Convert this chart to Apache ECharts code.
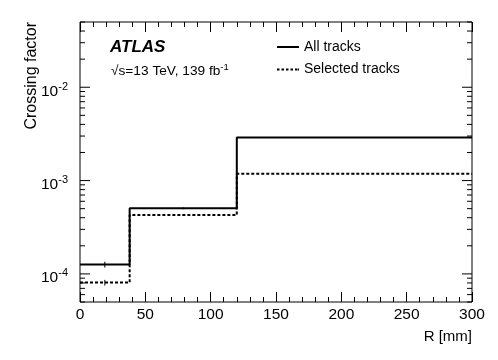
<!DOCTYPE html>
<html>
<head>
<meta charset="utf-8">
<script src="https://cdn.jsdelivr.net/npm/echarts@6/dist/echarts.min.js"></script>
<style>
  html, body { margin: 0; padding: 0; background: #fff; }
  #chart { width: 498px; height: 360px; }
</style>
</head>
<body>
<div id="chart"></div>
<script>
// bin edges in R [mm]
var binEdges = [0, 38, 120, 300];
// crossing factor per bin
var allTracks = [1.26e-4, 5.04e-4, 2.89e-3];
var allTracksErr = [0.09e-4, 0.12e-4, 0.015e-3];
var selectedTracks = [8.07e-5, 4.28e-4, 1.18e-3];
var selectedTracksErr = [0.56e-5, 0.1e-4, 0.01e-3];
// log y axis ticks
var yTicks = [5e-5, 6e-5, 7e-5, 8e-5, 9e-5,
  1e-4, 2e-4, 3e-4, 4e-4, 5e-4, 6e-4, 7e-4, 8e-4, 9e-4,
  1e-3, 2e-3, 3e-3, 4e-3, 5e-3, 6e-3, 7e-3, 8e-3, 9e-3,
  1e-2, 2e-2, 3e-2, 4e-2, 5e-2];
var yMajorLabels = { "1e-4": "-4", "1e-3": "-3", "1e-2": "-2" };

var FONT = "Liberation Sans, Arial, Helvetica, sans-serif";

// step points: repeat the last value at the right edge
function stepData(vals) {
  var pts = vals.map(function (v, i) { return [binEdges[i], v]; });
  pts.push([binEdges[binEdges.length - 1], vals[vals.length - 1]]);
  return pts;
}
function errData(vals, errs) {
  return vals.map(function (v, i) {
    return [(binEdges[i] + binEdges[i + 1]) / 2, v - errs[i], v + errs[i]];
  });
}

var chart = echarts.init(document.getElementById("chart"));

var option = {
  animation: false,
  grid: {
    left: 80, right: 26, top: 22, bottom: 58,
    show: true, borderColor: "#000", borderWidth: 1,
  },
  legend: {
    orient: "vertical",
    left: 277, top: 39, padding: 0,
    itemWidth: 22, itemHeight: 2, itemGap: 6.6,
    textStyle: { fontFamily: FONT, fontSize: 14, lineHeight: 16, color: "#000" },
    data: [
      { name: "All tracks", icon: "path://M0,0H22V2H0Z" },
      { name: "Selected tracks",
        icon: "path://M0,0H2.5V2H0Z M4.5,0H7V2H4.5Z M9,0H11.5V2H9Z M13.5,0H16V2H13.5Z M18,0H20.5V2H18Z M21,0H22V2H21Z" },
    ],
  },
  graphic: [
    {
      type: "text", left: 110, top: 39,
      style: { text: "ATLAS", font: "italic bold 17px " + FONT, fill: "#000" },
    },
    {
      type: "text", left: 111, top: 62,
      style: {
        text: "{n|√s=13 TeV, 139 fb}{s|-1}",
        fill: "#000",
        rich: {
          n: { fontFamily: FONT, fontSize: 13.7, verticalAlign: "bottom" },
          s: { fontFamily: FONT, fontSize: 9.5, verticalAlign: "top", padding: [0, 0, 6, 0] },
        },
      },
    },
  ],
  xAxis: [
    {
      type: "value", min: 0, max: 300, interval: 50,
      name: "R [mm]", nameLocation: "end", nameGap: 0,
      nameTextStyle: {
        fontFamily: FONT, fontSize: 15, color: "#000",
        align: "right", verticalAlign: "top", padding: [27, 0, 0, 0],
      },
      axisLine: { show: false },
      axisTick: { inside: true, length: 10, lineStyle: { color: "#000" } },
      minorTick: { show: true, splitNumber: 5, length: 5, lineStyle: { color: "#000" } },
      axisLabel: { fontFamily: FONT, fontSize: 15.5, color: "#000", margin: 5 },
      splitLine: { show: false },
    },
    {
      type: "value", min: 0, max: 300, interval: 50, position: "top",
      axisLine: { show: false },
      axisTick: { inside: true, length: 10, lineStyle: { color: "#000" } },
      minorTick: { show: true, splitNumber: 5, length: 5, lineStyle: { color: "#000" } },
      axisLabel: { show: false },
      splitLine: { show: false },
    },
  ],
  yAxis: {
    type: "log", logBase: 10, min: 5e-5, max: 5e-2,
    name: "Crossing factor", nameLocation: "end", nameRotate: 90, nameGap: 0,
    nameTextStyle: {
      fontFamily: FONT, fontSize: 16, color: "#000",
      align: "right", verticalAlign: "bottom", padding: [0, 0, 40, 0],
    },
    axisLine: { show: false },
    axisTick: { show: false },
    axisLabel: { show: false },
    splitLine: { show: false },
  },
  series: [
    {
      name: "All tracks", type: "line", step: "end",
      data: stepData(allTracks),
      showSymbol: false, symbol: "none",
      lineStyle: { color: "#000", width: 2 },
      itemStyle: { color: "#000" },
      z: 3,
    },
    {
      name: "Selected tracks", type: "line", step: "end",
      data: stepData(selectedTracks),
      showSymbol: false, symbol: "none",
      lineStyle: { color: "#000", width: 2, type: [3, 2] },
      itemStyle: { color: "#000" },
      z: 3,
    },
    {
      // error bars
      type: "custom",
      data: errData(allTracks, allTracksErr).concat(errData(selectedTracks, selectedTracksErr)),
      renderItem: function (params, api) {
        var lo = api.coord([api.value(0), api.value(1)]);
        var hi = api.coord([api.value(0), api.value(2)]);
        return {
          type: "line",
          shape: { x1: lo[0], y1: lo[1], x2: hi[0], y2: hi[1] },
          style: { stroke: "#000", lineWidth: 1 },
        };
      },
      z: 4,
    },
    {
      // log axis ticks (left and right) and labels
      type: "custom",
      data: yTicks.map(function (v) { return [0, v]; }),
      renderItem: function (params, api) {
        var v = api.value(1);
        var p = api.coord([0, v]);
        var q = api.coord([300, v]);
        var lg = Math.log10(v);
        var major = Math.abs(lg - Math.round(lg)) < 1e-6;
        var len = major ? 10 : 5;
        var children = [
          { type: "line", shape: { x1: p[0], y1: p[1], x2: p[0] + len, y2: p[1] },
            style: { stroke: "#000", lineWidth: 1 } },
          { type: "line", shape: { x1: q[0], y1: q[1], x2: q[0] - len, y2: q[1] },
            style: { stroke: "#000", lineWidth: 1 } },
        ];
        var key = "1e" + Math.round(lg);
        if (major && yMajorLabels[key]) {
          children.push({
            type: "text",
            x: p[0] - 12, y: p[1] + 3,
            style: {
              text: "{b|10}{s|" + yMajorLabels[key] + "}",
              align: "right", verticalAlign: "middle", fill: "#000",
              rich: {
                b: { fontFamily: FONT, fontSize: 15.5, verticalAlign: "bottom" },
                s: { fontFamily: FONT, fontSize: 11, verticalAlign: "top", padding: [0, 0, 7, 0] },
              },
            },
          });
        }
        return { type: "group", children: children };
      },
      z: 5,
    },
  ],
};
chart.setOption(option);
</script>
</body>
</html>
